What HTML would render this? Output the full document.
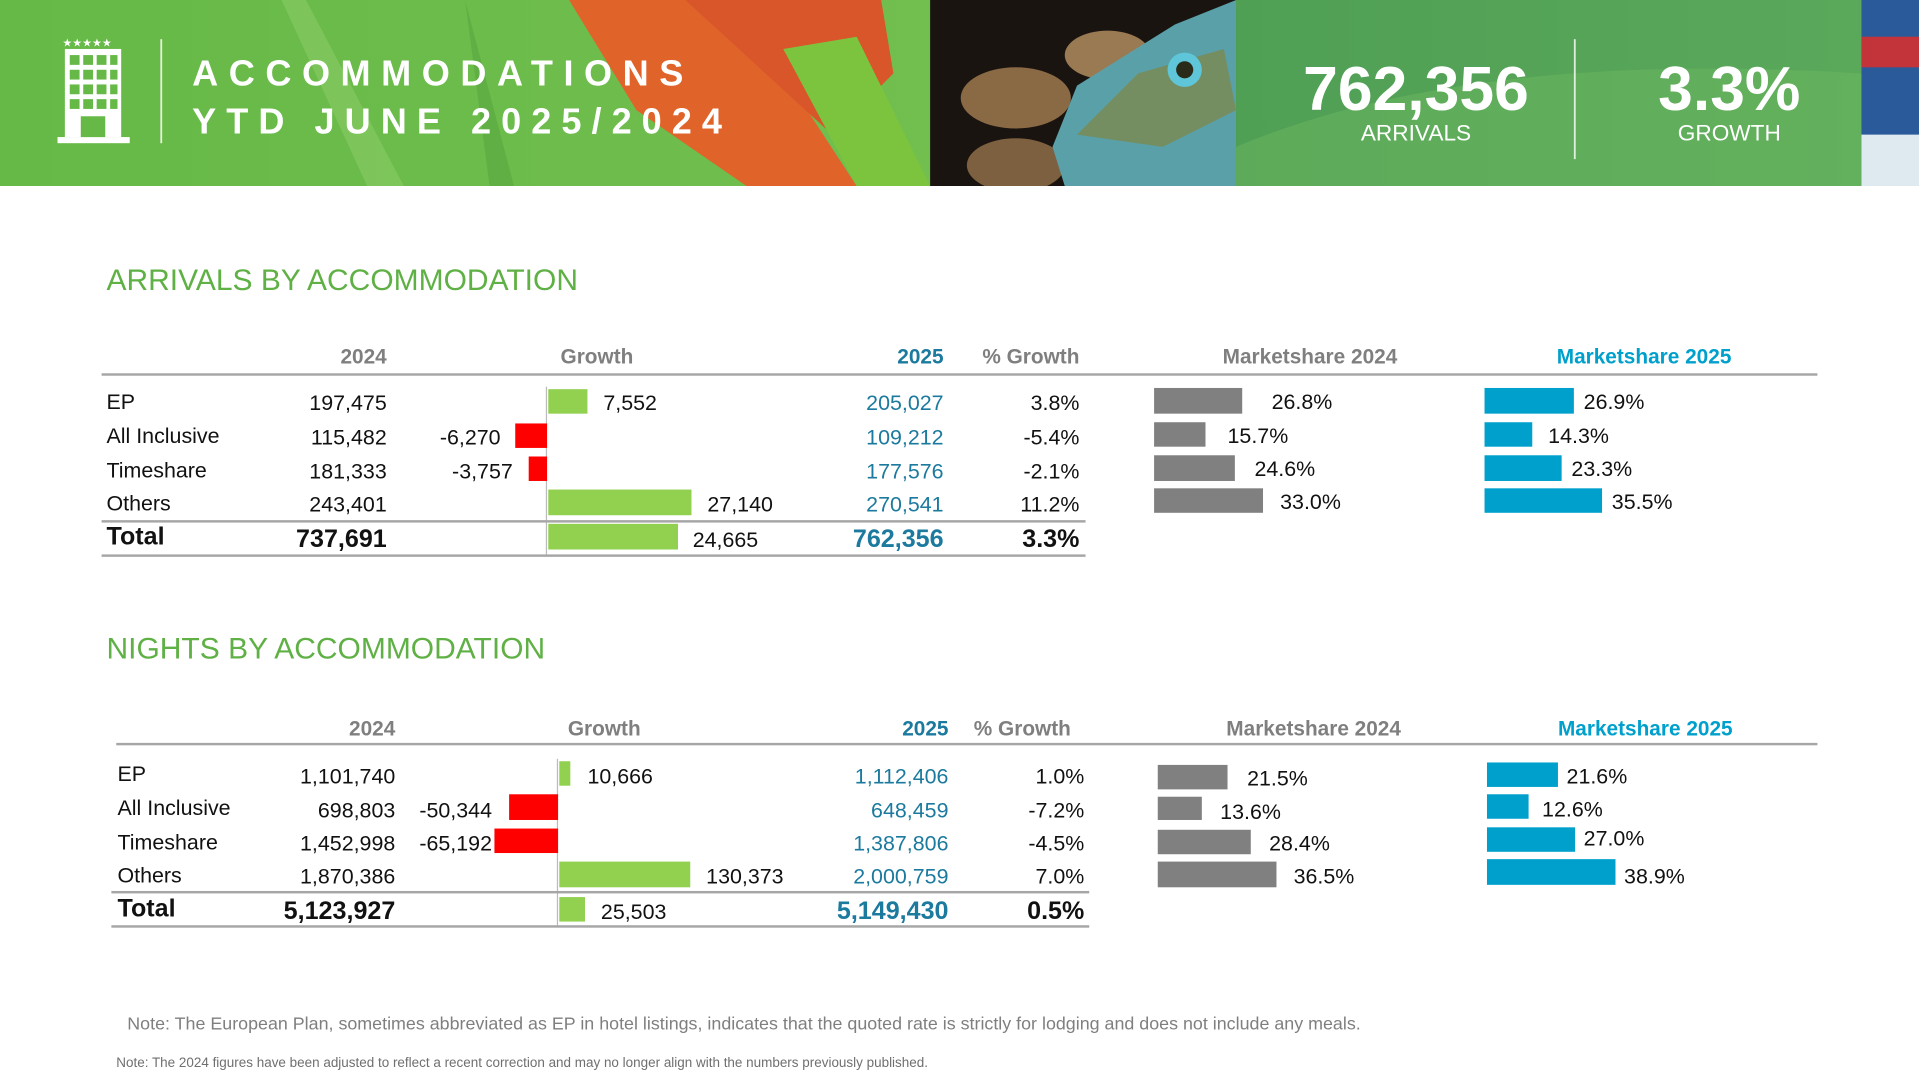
<!DOCTYPE html>
<html><head><meta charset="utf-8"><style>
html,body{margin:0;padding:0;background:#fff;width:1919px;height:1080px;overflow:hidden}
#w{position:absolute;left:0;top:0;width:1568px;height:882px;transform:scale(1.22385);transform-origin:0 0;font-family:"Liberation Sans",sans-serif}
.a{position:absolute;white-space:nowrap;line-height:20px;font-size:17.5px;color:#111}
.r{text-align:right;width:200px}
.b{position:absolute}
.h{color:#7f7f7f;font-weight:bold;font-size:17px}
.bl{color:#1b7a9e}
.tt{font-weight:bold;font-size:20.5px}
.ln{position:absolute;height:2px;background:#a6a6a6}
.g{background:#92d050}.rd{background:#ff0000}.gy{background:#808080}.cy{background:#00a0cc}
.sec{position:absolute;font-family:"Liberation Sans",sans-serif;color:#5fb045;font-size:24.5px;line-height:28px}
.ti{position:absolute;white-space:nowrap;font-family:'Liberation Sans',sans-serif;font-weight:bold;font-size:29.5px;line-height:34px;color:#fff}
</style></head><body><div id="w">
<svg class="b" style="left:0;top:0" width="1568" height="152" viewBox="0 0 1568 152">
<defs><linearGradient id="gl" x1="0" x2="1"><stop offset="0" stop-color="#66b947"/><stop offset="0.5" stop-color="#72bf4f"/><stop offset="1" stop-color="#5fa943"/></linearGradient>
<linearGradient id="gr" x1="0" x2="1"><stop offset="0" stop-color="#4f9f55"/><stop offset="1" stop-color="#5aa85a"/></linearGradient></defs>
<rect width="1568" height="152" fill="url(#gl)"/>
<path d="M250 0 L330 152 L300 152 L230 0Z" fill="#8fcf6a" opacity=".5"/>
<path d="M380 0 L420 152 L400 152Z" fill="#4f9a3a" opacity=".4"/>
<path d="M465 0 L560 0 L640 60 L700 152 L610 152 L520 90Z" fill="#e0632a"/>
<path d="M560 0 L720 0 L730 60 L680 110Z" fill="#d8562a"/>
<path d="M640 40 L700 30 L760 152 L700 152Z" fill="#7cc43e"/>
<rect x="760" y="0" width="250" height="152" fill="#1a1410"/>
<ellipse cx="830" cy="80" rx="45" ry="25" fill="#8a6a45"/>
<ellipse cx="905" cy="45" rx="35" ry="20" fill="#9a7a52"/>
<ellipse cx="830" cy="135" rx="40" ry="22" fill="#7d6040"/>
<path d="M870 152 L860 120 L880 70 L960 20 L1010 0 L1010 152Z" fill="#5aa0a8"/>
<path d="M880 110 L930 60 L1000 40 L1010 90 L950 120Z" fill="#7a8a50" opacity=".8"/>
<circle cx="968" cy="57" r="14" fill="#5ec6d8"/><circle cx="968" cy="57" r="7" fill="#2a2a1a"/>
<rect x="1010" y="0" width="511" height="152" fill="url(#gr)"/>
<path d="M1010 120 Q1200 40 1521 60 L1521 152 L1010 152Z" fill="#6bb860" opacity=".5"/>
<rect x="1521" y="0" width="47" height="152" fill="#2b5a9a"/>
<rect x="1521" y="30" width="47" height="25" fill="#c2343a"/>
<rect x="1521" y="110" width="47" height="42" fill="#dfeaf0"/>
<g fill="#fff">
<text x="51" y="38" font-size="9" font-family="DejaVu Sans">★★★★★</text>
<rect x="53" y="40" width="46" height="72"/>
<rect x="47" y="112" width="59" height="5"/>
</g>
<g fill="#66b947">
<rect x="57" y="45" width="8" height="8"/><rect x="68" y="45" width="8" height="8"/><rect x="79" y="45" width="8" height="8"/><rect x="90" y="45" width="6" height="8"/>
<rect x="57" y="57" width="8" height="8"/><rect x="68" y="57" width="8" height="8"/><rect x="79" y="57" width="8" height="8"/><rect x="90" y="57" width="6" height="8"/>
<rect x="57" y="69" width="8" height="8"/><rect x="68" y="69" width="8" height="8"/><rect x="79" y="69" width="8" height="8"/><rect x="90" y="69" width="6" height="8"/>
<rect x="57" y="81" width="8" height="8"/><rect x="68" y="81" width="8" height="8"/><rect x="79" y="81" width="8" height="8"/><rect x="90" y="81" width="6" height="8"/>
<rect x="66" y="95" width="20" height="17"/>
</g>
<rect x="131" y="32" width="1.5" height="85" fill="#fff" opacity=".8"/>
<rect x="1286" y="32" width="1.5" height="98" fill="#fff" opacity=".8"/>
</svg>
<div class="ti" style="left:157px;top:44px;letter-spacing:8.6px">ACCOMMODATIONS</div>
<div class="ti" style="left:157px;top:83px;letter-spacing:8.2px">YTD JUNE 2025/2024</div>
<div class="a" style="left:1057px;width:200px;text-align:center;top:46px;font-weight:bold;font-size:51px;line-height:54px;color:#fff">762,356</div>
<div class="a" style="left:1057px;width:200px;text-align:center;top:99px;font-size:18.5px;color:#fff">ARRIVALS</div>
<div class="a" style="left:1313px;width:200px;text-align:center;top:46px;font-weight:bold;font-size:51px;line-height:54px;color:#fff">3.3%</div>
<div class="a" style="left:1313px;width:200px;text-align:center;top:99px;font-size:18.5px;color:#fff">GROWTH</div>

<div class="sec" style="left:87px;top:216px">ARRIVALS BY ACCOMMODATION</div>
<div class="a h r" style="left:116px;top:282px">2024</div>
<div class="a h" style="left:458px;top:282px">Growth</div>
<div class="a r" style="left:571px;top:282px;font-weight:bold;font-size:17px;color:#1b7a9e">2025</div>
<div class="a h r" style="left:682px;top:282px">% Growth</div>
<div class="a h" style="left:999px;top:282px">Marketshare 2024</div>
<div class="a" style="left:1272px;top:282px;font-weight:bold;font-size:17px;color:#00a0cc">Marketshare 2025</div>
<div class="ln" style="left:83px;top:305px;width:1402px"></div>
<div class="b" style="left:446px;top:316px;width:1px;height:137px;background:#bbb"></div>
<div class="a" style="left:87px;top:318px">EP</div><div class="a" style="left:87px;top:346px">All Inclusive</div><div class="a" style="left:87px;top:374px">Timeshare</div><div class="a" style="left:87px;top:401px">Others</div><div class="a tt" style="left:87px;top:429px">Total</div>
<div class="a r" style="left:116px;top:319px">197,475</div><div class="a r" style="left:116px;top:347px">115,482</div><div class="a r" style="left:116px;top:375px">181,333</div><div class="a r" style="left:116px;top:402px">243,401</div><div class="a r tt" style="left:116px;top:431px">737,691</div>
<div class="b g" style="left:448px;top:318px;width:32px;height:20px"></div><div class="a" style="left:493px;top:319px">7,552</div>
<div class="b rd" style="left:421px;top:346px;width:26px;height:20px"></div><div class="a r" style="left:209px;top:347px">-6,270</div>
<div class="b rd" style="left:432px;top:373px;width:15px;height:20px"></div><div class="a r" style="left:219px;top:375px">-3,757</div>
<div class="b g" style="left:448px;top:400px;width:117px;height:21px"></div><div class="a" style="left:578px;top:402px">27,140</div>
<div class="b g" style="left:448px;top:428px;width:106px;height:21px"></div><div class="a" style="left:566px;top:431px">24,665</div>
<div class="a r bl" style="left:571px;top:319px">205,027</div><div class="a r bl" style="left:571px;top:347px">109,212</div><div class="a r bl" style="left:571px;top:375px">177,576</div><div class="a r bl" style="left:571px;top:402px">270,541</div><div class="a r tt bl" style="left:571px;top:431px">762,356</div>
<div class="a r" style="left:682px;top:319px">3.8%</div><div class="a r" style="left:682px;top:347px">-5.4%</div><div class="a r" style="left:682px;top:375px">-2.1%</div><div class="a r" style="left:682px;top:402px">11.2%</div><div class="a r tt" style="left:682px;top:431px">3.3%</div>
<div class="ln" style="left:83px;top:425px;width:804px"></div><div class="ln" style="left:83px;top:453px;width:804px"></div>
<div class="b gy" style="left:943px;top:317px;width:72px;height:21px"></div><div class="a" style="left:1039px;top:318px">26.8%</div>
<div class="b gy" style="left:943px;top:345px;width:42px;height:20px"></div><div class="a" style="left:1003px;top:346px">15.7%</div>
<div class="b gy" style="left:943px;top:372px;width:66px;height:21px"></div><div class="a" style="left:1025px;top:373px">24.6%</div>
<div class="b gy" style="left:943px;top:399px;width:89px;height:20px"></div><div class="a" style="left:1046px;top:400px">33.0%</div>
<div class="b cy" style="left:1213px;top:317px;width:73px;height:21px"></div><div class="a" style="left:1294px;top:318px">26.9%</div>
<div class="b cy" style="left:1213px;top:345px;width:39px;height:20px"></div><div class="a" style="left:1265px;top:346px">14.3%</div>
<div class="b cy" style="left:1213px;top:372px;width:63px;height:21px"></div><div class="a" style="left:1284px;top:373px">23.3%</div>
<div class="b cy" style="left:1213px;top:399px;width:96px;height:20px"></div><div class="a" style="left:1317px;top:400px">35.5%</div>

<div class="sec" style="left:87px;top:517px">NIGHTS BY ACCOMMODATION</div>
<div class="a h r" style="left:123px;top:586px">2024</div>
<div class="a h" style="left:464px;top:586px">Growth</div>
<div class="a r" style="left:575px;top:586px;font-weight:bold;font-size:17px;color:#1b7a9e">2025</div>
<div class="a h r" style="left:675px;top:586px">% Growth</div>
<div class="a h" style="left:1002px;top:586px">Marketshare 2024</div>
<div class="a" style="left:1273px;top:586px;font-weight:bold;font-size:17px;color:#00a0cc">Marketshare 2025</div>
<div class="ln" style="left:95px;top:607px;width:1390px"></div>
<div class="b" style="left:455px;top:620px;width:1px;height:137px;background:#bbb"></div>
<div class="a" style="left:96px;top:622px">EP</div><div class="a" style="left:96px;top:650px">All Inclusive</div><div class="a" style="left:96px;top:678px">Timeshare</div><div class="a" style="left:96px;top:705px">Others</div><div class="a tt" style="left:96px;top:733px">Total</div>
<div class="a r" style="left:123px;top:624px">1,101,740</div><div class="a r" style="left:123px;top:652px">698,803</div><div class="a r" style="left:123px;top:679px">1,452,998</div><div class="a r" style="left:123px;top:706px">1,870,386</div><div class="a r tt" style="left:123px;top:735px">5,123,927</div>
<div class="b g" style="left:457px;top:622px;width:9px;height:20px"></div><div class="a" style="left:480px;top:624px">10,666</div>
<div class="b rd" style="left:416px;top:649px;width:40px;height:21px"></div><div class="a r" style="left:202px;top:652px">-50,344</div>
<div class="b rd" style="left:404px;top:677px;width:52px;height:20px"></div><div class="a r" style="left:202px;top:679px">-65,192</div>
<div class="b g" style="left:457px;top:704px;width:107px;height:21px"></div><div class="a" style="left:577px;top:706px">130,373</div>
<div class="b g" style="left:457px;top:733px;width:21px;height:20px"></div><div class="a" style="left:491px;top:735px">25,503</div>
<div class="a r bl" style="left:575px;top:624px">1,112,406</div><div class="a r bl" style="left:575px;top:652px">648,459</div><div class="a r bl" style="left:575px;top:679px">1,387,806</div><div class="a r bl" style="left:575px;top:706px">2,000,759</div><div class="a r tt bl" style="left:575px;top:735px">5,149,430</div>
<div class="a r" style="left:686px;top:624px">1.0%</div><div class="a r" style="left:686px;top:652px">-7.2%</div><div class="a r" style="left:686px;top:679px">-4.5%</div><div class="a r" style="left:686px;top:706px">7.0%</div><div class="a r tt" style="left:686px;top:735px">0.5%</div>
<div class="ln" style="left:91px;top:728px;width:799px"></div><div class="ln" style="left:91px;top:756px;width:799px"></div>
<div class="b gy" style="left:946px;top:625px;width:57px;height:20px"></div><div class="a" style="left:1019px;top:626px">21.5%</div>
<div class="b gy" style="left:946px;top:651px;width:36px;height:19px"></div><div class="a" style="left:997px;top:653px">13.6%</div>
<div class="b gy" style="left:946px;top:678px;width:76px;height:20px"></div><div class="a" style="left:1037px;top:679px">28.4%</div>
<div class="b gy" style="left:946px;top:704px;width:97px;height:21px"></div><div class="a" style="left:1057px;top:706px">36.5%</div>
<div class="b cy" style="left:1215px;top:623px;width:58px;height:20px"></div><div class="a" style="left:1280px;top:624px">21.6%</div>
<div class="b cy" style="left:1215px;top:649px;width:34px;height:20px"></div><div class="a" style="left:1260px;top:651px">12.6%</div>
<div class="b cy" style="left:1215px;top:676px;width:72px;height:20px"></div><div class="a" style="left:1294px;top:675px">27.0%</div>
<div class="b cy" style="left:1215px;top:702px;width:105px;height:21px"></div><div class="a" style="left:1327px;top:706px">38.9%</div>

<div class="a" style="left:104px;top:827px;font-size:14.6px;color:#7f7f7f">Note: The European Plan, sometimes abbreviated as EP in hotel listings, indicates that the quoted rate is strictly for lodging and does not include any meals.</div>
<div class="a" style="left:95px;top:859px;font-size:11px;color:#6f6f6f">Note: The 2024 figures have been adjusted to reflect a recent correction and may no longer align with the numbers previously published.</div>
</div></body></html>
